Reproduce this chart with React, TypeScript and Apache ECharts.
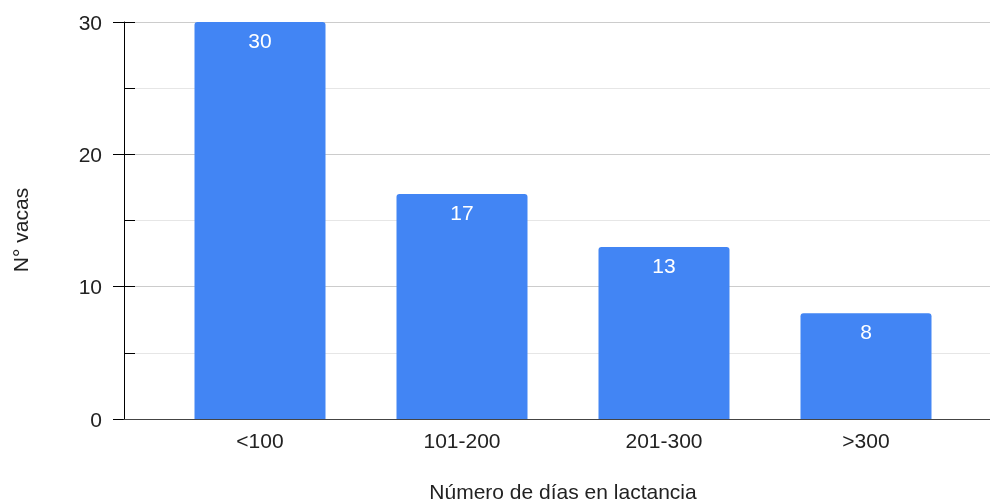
import React, { useEffect, useRef } from "react";
import * as echarts from "echarts";

// Lactation-stage groups and the number of cows in each
const categories = ["<100", "101-200", "201-300", ">300"];
const cows = [30, 17, 13, 8];

// Value axis
const yMin = 0;
const yMax = 30;
const yInterval = 10;

const xTitle = "Número de días en lactancia";
const yTitle = "N° vacas";

const FONT = "'Liberation Sans', Arial, sans-serif";

export default function App() {
  const ref = useRef<HTMLDivElement>(null);

  useEffect(() => {
    if (!ref.current) return;
    const chart = echarts.init(ref.current, undefined, { renderer: "svg" });

    const option: echarts.EChartsOption = {
      animation: false,
      textStyle: { fontFamily: FONT },
      grid: [
        // frame: axis line, ticks, gridlines
        { left: 124, right: 0, top: 22, bottom: 83, outerBoundsMode: "none" } as any,
        // bars
        { left: 159, right: 23, top: 22, bottom: 83, outerBoundsMode: "none" } as any,
      ],
      xAxis: [
        {
          gridIndex: 0,
          type: "value",
          min: 0,
          max: 1,
          axisLine: { show: true, lineStyle: { color: "#444", width: 1 } },
          axisTick: { show: false },
          axisLabel: { show: false },
          splitLine: { show: false },
          z: 5,
        },
        {
          gridIndex: 1,
          type: "category",
          data: categories,
          axisLine: { show: false },
          axisTick: { show: false },
          axisLabel: { color: "#222", fontSize: 21, margin: 11, fontFamily: FONT },
          name: xTitle,
          nameLocation: "middle",
          nameGap: 62,
          nameTextStyle: { color: "#222", fontSize: 21, fontFamily: FONT },
        },
      ],
      yAxis: [
        {
          gridIndex: 0,
          type: "value",
          min: yMin,
          max: yMax,
          interval: yInterval,
          axisLine: { show: true, lineStyle: { color: "#000", width: 1 } },
          axisTick: { show: true, length: 11, lineStyle: { color: "#000" } },
          axisLabel: { color: "#222", fontSize: 21, margin: 22, fontFamily: FONT },
          splitLine: { show: true, lineStyle: { color: "#cccccc" } },
          minorTick: { show: false, splitNumber: 2 },
          minorSplitLine: { show: true, lineStyle: { color: "#e6e6e6" } },
          z: 1,
        },
        {
          gridIndex: 0,
          type: "value",
          min: yMin,
          max: yMax,
          interval: yInterval,
          position: "left",
          offset: 0,
          axisLine: { show: false },
          axisTick: { show: true, inside: true, length: 11, lineStyle: { color: "#000" } },
          minorTick: { show: true, splitNumber: 2, length: 11, lineStyle: { color: "#000" } },
          axisLabel: { show: false },
          splitLine: { show: false },
          z: 1,
        },
        {
          gridIndex: 1,
          type: "value",
          min: yMin,
          max: yMax,
          interval: yInterval,
          show: false,
        },
      ],
      graphic: [
        {
          type: "text",
          x: 20,
          y: 230,
          rotation: Math.PI / 2,
          style: {
            text: yTitle,
            fill: "#222",
            font: `21px ${FONT}`,
            align: "center",
            verticalAlign: "middle",
          },
        },
      ],
      series: [
        {
          type: "bar",
          xAxisIndex: 1,
          yAxisIndex: 2,
          data: cows,
          barWidth: 131,
          itemStyle: { color: "#4285f4", borderRadius: [3, 3, 0, 0] },
          label: {
            show: true,
            position: "insideTop",
            distance: 8,
            color: "#fff",
            fontSize: 21,
            fontFamily: FONT,
          },
          z: 3,
        },
      ],
    };

    chart.setOption(option);
    return () => chart.dispose();
  }, []);

  return (
    <div
      ref={ref}
      style={{ position: "fixed", left: 0, top: 0, width: 990, height: 502 }}
    />
  );
}
